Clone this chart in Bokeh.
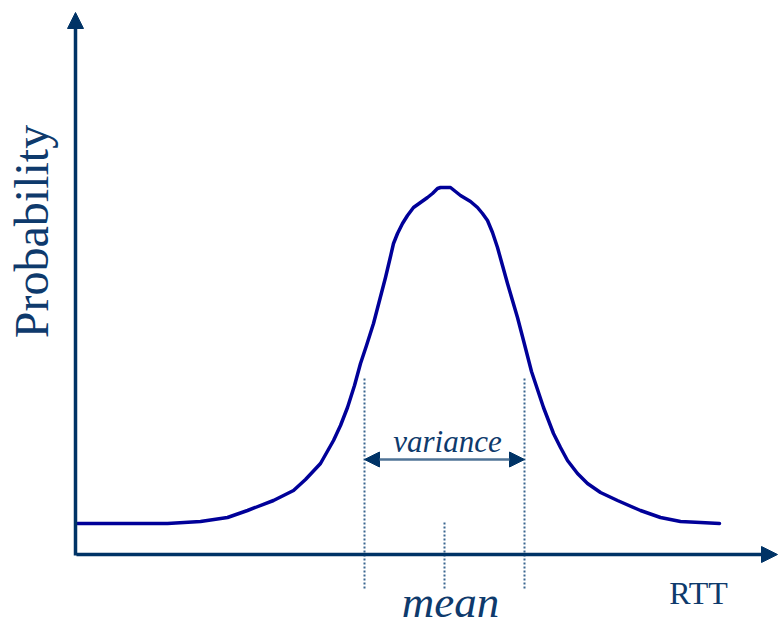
from bokeh.plotting import figure
from bokeh.models import Range1d, Arrow, NormalHead, Label, ColumnDataSource
from bokeh.embed import file_html
from bokeh.resources import INLINE

# RTT distribution curve (data units: RTT on x, probability on y)
rtt = [1, 91, 124, 151, 171, 197, 217, 229, 244, 257, 264, 271, 278, 284, 290, 297,
       303, 309, 314, 317, 321, 326, 331, 337, 344, 351, 356, 361, 364, 374, 379, 384,
       394, 401, 406, 411, 416, 421, 426, 431, 441, 447, 455, 467, 477, 484, 491,
       501, 511, 524, 541, 564, 584, 604, 624, 643]
prob = [30, 30, 32, 36, 43, 53, 63, 74, 90, 113, 128, 146, 168, 190, 208, 230,
        253, 276, 297, 310, 320, 330, 338, 346, 351, 356, 360, 365, 366, 366, 362, 358,
        352, 346, 340, 333, 321, 306, 288, 270, 236, 213, 182, 146, 120, 106, 93,
        80, 70, 61, 53, 43, 36, 32, 31, 30]

mean_x = 368
var_lo = 288
var_hi = 448
var_y = 94
x_axis_end = 701
y_axis_end = 541

axis_color = "#003366"
curve_color = "#000099"
text_color = "#0e3a6c"
dot_color = "#3a6690"
font = "'Liberation Serif', 'Times New Roman', serif"

p = figure(width=778, height=628, output_backend="svg", toolbar_location=None,
           x_range=Range1d(-76, 702), y_range=Range1d(-75, 553),
           x_axis_type=None, y_axis_type=None, min_border=0,
           outline_line_color=None, background_fill_color="white")
p.grid.visible = False

# axes with arrowheads
p.add_layout(Arrow(end=NormalHead(size=16, fill_color=axis_color, line_color=axis_color),
                   x_start=0, y_start=-1, x_end=x_axis_end, y_end=-1,
                   line_color=axis_color, line_width=3.5))
p.add_layout(Arrow(end=NormalHead(size=16, fill_color=axis_color, line_color=axis_color),
                   x_start=-1, y_start=-2, x_end=-1, y_end=y_axis_end,
                   line_color=axis_color, line_width=3.5))

# dotted guides
p.segment(x0=[var_lo, var_hi, mean_x], y0=[175, 175, 31],
          x1=[var_lo, var_hi, mean_x], y1=[-37, -37, -37],
          line_color=dot_color, line_width=2, line_dash="2 2")

# curve
src = ColumnDataSource(dict(x=rtt, y=prob))
p.line("x", "y", source=src, line_color=curve_color, line_width=3.5,
       line_join="round", line_cap="round")

# variance arrow
p.add_layout(Arrow(start=NormalHead(size=15, fill_color=axis_color, line_color=axis_color),
                   end=NormalHead(size=15, fill_color=axis_color, line_color=axis_color),
                   x_start=var_lo, y_start=var_y, x_end=var_hi, y_end=var_y,
                   line_color="#4f7396", line_width=2.5))

# texts
p.add_layout(Label(x=371, y=112, text="variance", text_font=font, text_font_size="31px",
                   text_font_style="italic", text_color=text_color,
                   text_align="center", text_baseline="alphabetic"))
p.add_layout(Label(x=374, y=-48, text="mean", text_font=font, text_font_size="45px",
                   text_font_style="italic", text_color=text_color,
                   text_align="center", text_baseline="alphabetic"))
p.add_layout(Label(x=622, y=-39, text="RTT", text_font=font, text_font_size="32px",
                   text_color=text_color, text_align="center", text_baseline="alphabetic"))
p.add_layout(Label(x=-45, y=322, text="Probability", text_font=font, text_font_size="48px",
                   text_color=text_color, angle=90, angle_units="deg",
                   text_align="center", text_baseline="alphabetic"))

open("out.html", "w").write(file_html(p, INLINE))
